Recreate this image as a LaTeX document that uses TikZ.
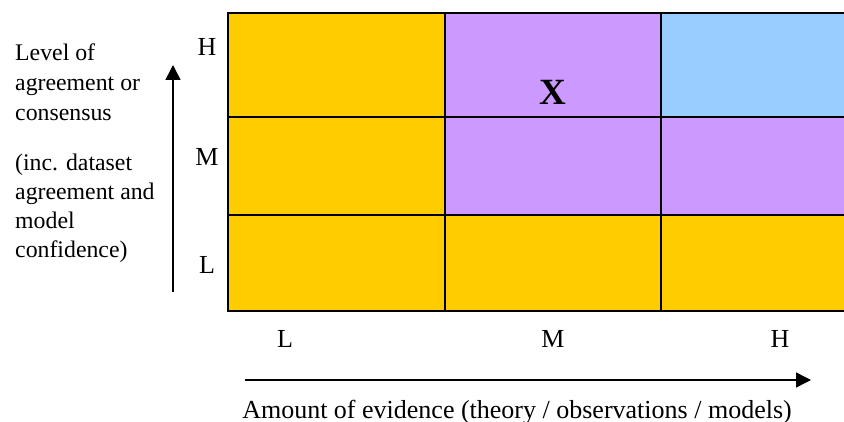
\documentclass[tikz,border=0pt]{standalone}
\usepackage{fontspec}
\setmainfont{Liberation Serif}
\usetikzlibrary{arrows.meta}
\definecolor{amber}{HTML}{FFCC00}
\definecolor{lilac}{HTML}{CC99FF}
\definecolor{skyb}{HTML}{99CCFF}

\begin{document}
\begin{tikzpicture}[x=1pt,y=-1pt,
		lbl/.style={font=\fontsize{26}{30}\selectfont,inner sep=0pt},
		sidetxt/.style={lbl,font=\fontsize{23.8}{28}\selectfont,anchor=base west},
		axis/.style={line width=1.5pt,-{Triangle[length=15pt,width=15pt]}},
		cellline/.style={line width=2.5pt}]
	\useasboundingbox (0,0) rectangle (844,422);
	% coloured cells, grid runs off the right edge
	\fill[amber] (228,13) rectangle (850,311);
	\fill[lilac] (445,13) rectangle (850,215);
	\fill[skyb] (661,13) rectangle (850,117);
	\draw[cellline] (228,13) rectangle (850,311);
	\draw[cellline] (228,117) -- (850,117) (228,215) -- (850,215);
	\draw[cellline] (445,13) -- (445,311) (661,13) -- (661,311);
	\node[lbl,font=\fontsize{37}{40}\selectfont\bfseries] (mark) at (553,92) {X};
	% agreement axis
	\foreach \yy/\txt [count=\i] in {61/Level of,91/agreement or,121/consensus,171/(inc. dataset,200/agreement and,229/model,258/confidence)}
		\node[sidetxt] (lev\i) at (15,\yy) {\txt};
	\coordinate (vlo) at (173,292); \coordinate (vhi) at (173,65);
	\draw[axis] (vlo) -- (vhi);
	\node[lbl,anchor=base] (yH) at (207,56) {H};
	\node[lbl,anchor=base] (yM) at (207,166) {M};
	\node[lbl,anchor=base] (yL) at (207,274) {L};
	% evidence axis
	\node[lbl,anchor=base] (xL) at (285,348) {L};
	\node[lbl,anchor=base] (xM) at (553,348) {M};
	\node[lbl,anchor=base] (xH) at (780,348) {H};
	\coordinate (hlo) at (245,380); \coordinate (hhi) at (811,380);
	\draw[axis] (hlo) -- (hhi);
	\node[lbl,anchor=base] (evid) at (517,418) {Amount of evidence (theory / observations / models)};
\end{tikzpicture}
\end{document}
